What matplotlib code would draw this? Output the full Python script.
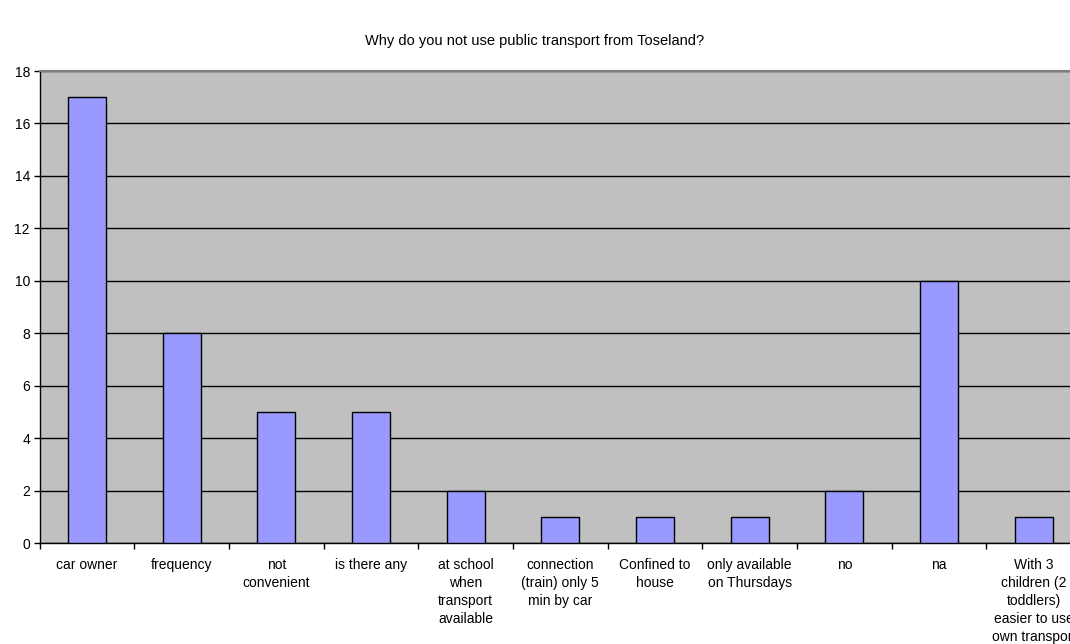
import matplotlib
matplotlib.use("Agg")
import matplotlib.pyplot as plt
import numpy as np

plt.rcParams['font.family'] = ['Liberation Sans', 'DejaVu Sans']

categories = [
    "car owner",
    "frequency",
    "not\nconvenient",
    "is there any",
    "at school\nwhen\ntransport\navailable",
    "connection\n(train) only 5\nmin by car",
    "Confined to\nhouse",
    "only available\non Thursdays",
    "no",
    "na",
    "With 3\nchildren (2\ntoddlers)\neasier to use\nown transport",
]
counts = [17, 8, 5, 5, 2, 1, 1, 1, 2, 10, 1]
yticks = list(range(0, 19, 2))

fig = plt.figure(figsize=(10.70, 6.44), dpi=100)
# plot area runs past the right edge, as in the source image
ax = fig.add_axes([0.0371, 0.1568, 0.9732, 0.7329])
ax.set_facecolor("#C0C0C0")

x = np.arange(len(categories))
ax.bar(x, counts, width=0.4, color="#9999FF", edgecolor="black", linewidth=1, zorder=3)

ax.set_xlim(-0.5, len(categories) - 0.5)
ax.set_ylim(0, 18)
ax.set_yticks(yticks)
ax.yaxis.grid(True, color="black", linewidth=1, zorder=1)
ax.set_axisbelow(True)

ax.set_xticks(x)
ax.set_xticklabels(categories, fontsize=10, linespacing=1.36, va="top")
ax.set_xticks(np.arange(len(categories) + 1) - 0.5, minor=True)
ax.tick_params(axis="x", which="major", length=0, pad=11)
ax.tick_params(axis="x", which="minor", length=4, width=1, direction="out")
ax.tick_params(axis="y", labelsize=10, length=4, width=1, direction="out", pad=3)

for side in ["top", "right"]:
    ax.spines[side].set_color("#808080")
    ax.spines[side].set_linewidth(1.5)
for side in ["left", "bottom"]:
    ax.spines[side].set_color("black")
    ax.spines[side].set_linewidth(1)

fig.text(0.5, 1 - 41 / 644, "Why do you not use public transport from Toseland?",
         ha="center", va="center", fontsize=10.5)

fig.savefig("out.png", dpi=100)
